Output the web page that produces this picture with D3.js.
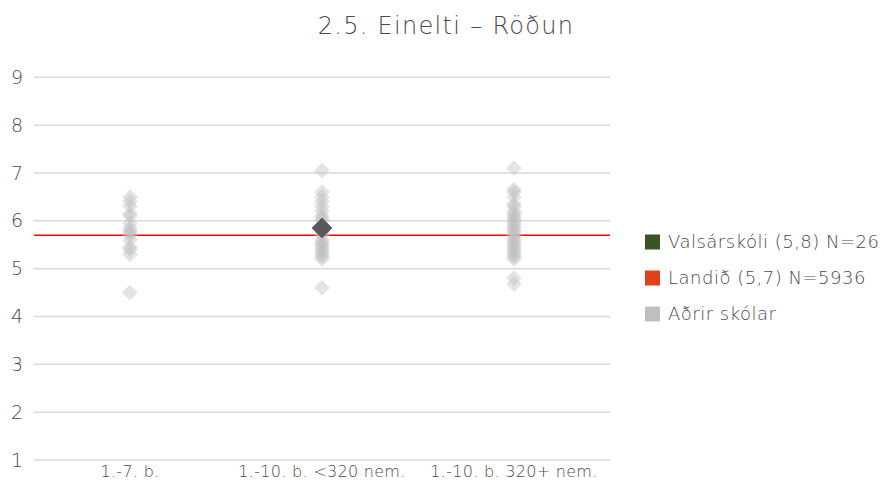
<!DOCTYPE html>
<html><head><meta charset="utf-8">
<script src="https://cdn.jsdelivr.net/npm/d3@7"></script>
<style>body{margin:0;background:#fff;} text{font-family:"DejaVu Sans",sans-serif;font-weight:200;}</style>
</head><body>
<svg id="c" width="882" height="482"></svg>
<script>
const title = "2.5. Einelti – Röðun";
const categories = ["1.-7. b.", "1.-10. b. <320 nem.", "1.-10. b. 320+ nem."];
const otherSchools1 = [6.5, 6.4, 6.3, 6.15, 6.1, 5.95, 5.85, 5.8, 5.75, 5.7, 5.6, 5.45, 5.4, 5.3, 4.5];
const otherSchools2 = [7.05, 6.6, 6.5, 6.4, 6.3, 6.2, 6.1, 6.05, 6.0, 5.9, 5.8, 5.75, 5.7, 5.6, 5.55, 5.5, 5.45, 5.4, 5.35, 5.3, 5.25, 5.2, 4.6];
const otherSchools3 = [7.1, 6.65, 6.6, 6.5, 6.35, 6.3, 6.2, 6.15, 6.1, 6.05, 6.0, 5.95, 5.9, 5.85, 5.8, 5.75, 5.7, 5.65, 5.6, 5.55, 5.5, 5.45, 5.4, 5.35, 5.3, 5.25, 5.2, 4.8, 4.68];
const schoolCategory = "1.-10. b. <320 nem.";
const schoolValue = 5.85;
const nationalValue = 5.7;
const yTicks = [1, 2, 3, 4, 5, 6, 7, 8, 9];
const legendLabels = ["Valsárskóli (5,8) N=26", "Landið (5,7) N=5936", "Aðrir skólar"];
const legendColors = ["#375623", "#e0401a", "#bfbfbf"];

const others = [otherSchools1, otherSchools2, otherSchools3];
const svg = d3.select("#c");
const x = d3.scaleBand().domain(categories).range([34, 610]);
const y = d3.scaleLinear().domain([1, 9]).range([460, 77.3]);
const FONT = "'DejaVu Sans',sans-serif";
const TXT = "#4a4a4a";

svg.append("text").attr("x", 446).attr("y", 34).attr("text-anchor", "middle")
  .attr("font-size", 24).attr("letter-spacing", 1.3).attr("fill", TXT).text(title);

// gridlines
svg.append("g").selectAll("line").data(yTicks).join("line")
  .attr("x1", 34).attr("x2", 610)
  .attr("y1", d => y(d)).attr("y2", d => y(d))
  .attr("stroke", "#d9d9d9").attr("stroke-width", 1.5);

// y axis labels
const ya = svg.append("g").attr("transform", "translate(30,0)")
  .call(d3.axisLeft(y).tickValues(yTicks).tickSize(0).tickPadding(8).tickFormat(d3.format("d")));
ya.select(".domain").remove();
ya.selectAll("text").attr("font-size", 19).attr("fill", TXT).attr("font-family", FONT).attr("font-weight", 200).attr("text-anchor", "start").attr("x", -19);

// x axis labels
const xa = svg.append("g").attr("transform", "translate(0,460)")
  .call(d3.axisBottom(x).tickSize(0).tickPadding(6));
xa.select(".domain").remove();
xa.selectAll("text").attr("font-size", 16).attr("letter-spacing", 0.3).attr("fill", TXT).attr("font-family", FONT).attr("font-weight", 200);

// national line
svg.append("line").attr("x1", 34).attr("x2", 610)
  .attr("y1", y(nationalValue)).attr("y2", y(nationalValue))
  .attr("stroke", "#ff0000").attr("stroke-width", 1.5);

const diamond = d3.symbol().type(d3.symbolSquare).size(125);
const pts = [];
others.forEach((arr, i) => arr.forEach(v => pts.push({c: categories[i], v})));
svg.append("g").selectAll("path").data(pts).join("path")
  .attr("d", diamond)
  .attr("transform", d => `translate(${x(d.c) + x.bandwidth() / 2},${y(d.v)}) rotate(45)`)
  .attr("fill", "#bfbfbf").attr("fill-opacity", 0.42);

svg.append("path").attr("d", d3.symbol().type(d3.symbolSquare).size(200))
  .attr("transform", `translate(${x(schoolCategory) + x.bandwidth() / 2},${y(schoolValue)}) rotate(45)`)
  .attr("fill", "#595959").attr("stroke", "#404040").attr("stroke-width", 0.5);

// legend
const lg = svg.append("g").selectAll("g").data(legendLabels).join("g")
  .attr("transform", (d, i) => `translate(645,${242 + i * 36})`);
lg.append("rect").attr("x", 0).attr("y", -7.5).attr("width", 15).attr("height", 15)
  .attr("fill", (d, i) => legendColors[i]);
lg.append("text").attr("x", 23).attr("y", 0).attr("dy", "0.36em")
  .attr("font-size", 18).attr("letter-spacing", 0.5).attr("fill", TXT).text(d => d);
</script>
</body></html>
